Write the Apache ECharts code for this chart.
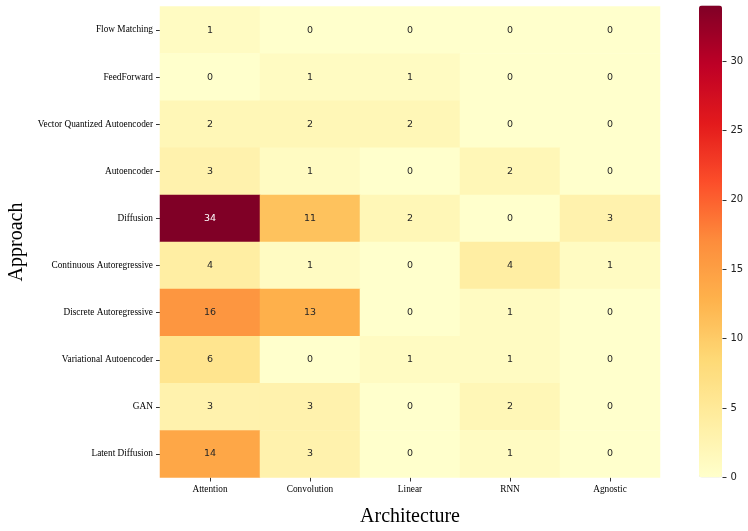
<!DOCTYPE html>
<html>
<head>
<meta charset="utf-8">
<script src="https://cdn.jsdelivr.net/npm/echarts@6/dist/echarts.min.js"></script>
<style>html,body{margin:0;padding:0;background:#fff;}#c{width:748px;height:531px;}</style>
</head>
<body>
<div id="c"></div>
<script>
var architectures = ['Attention', 'Convolution', 'Linear', 'RNN', 'Agnostic'];
var approaches = ['Flow Matching', 'FeedForward', 'Vector Quantized Autoencoder', 'Autoencoder', 'Diffusion',
  'Continuous Autoregressive', 'Discrete Autoregressive', 'Variational Autoencoder', 'GAN', 'Latent Diffusion'];
var counts = [
  [1, 0, 0, 0, 0],
  [0, 1, 1, 0, 0],
  [2, 2, 2, 0, 0],
  [3, 1, 0, 2, 0],
  [34, 11, 2, 0, 3],
  [4, 1, 0, 4, 1],
  [16, 13, 0, 1, 0],
  [6, 0, 1, 1, 0],
  [3, 3, 0, 2, 0],
  [14, 3, 0, 1, 0]
];
var colorbarTicks = [0, 5, 10, 15, 20, 25, 30];
var vmax = 34;
var axisMax = 35;

var data = [];
counts.forEach(function (row, yi) {
  row.forEach(function (v, xi) {
    var item = { value: [xi, yi, v] };
    if (v / vmax > 0.7) item.label = { color: '#ffffff' };
    data.push(item);
  });
});

var barBottom = 477.5, barHeight = 472;
var axisHeight = barHeight * axisMax / vmax;

var chart = echarts.init(document.getElementById('c'));
chart.setOption({
  animation: false,
  backgroundColor: '#ffffff',
  grid: [
    { left: 160, right: 88, top: 6.5, bottom: 53.5, containLabel: false, outerBoundsMode: 'none' },
    { left: 722.5, width: 20, top: barBottom - axisHeight, height: axisHeight, containLabel: false, outerBoundsMode: 'none' }
  ],
  xAxis: [
    {
      type: 'category', data: architectures, gridIndex: 0,
      axisLine: { show: false },
      axisTick: { show: true, alignWithLabel: true, length: 4, lineStyle: { color: '#333' } },
      axisLabel: { fontFamily: 'Liberation Serif', fontSize: 9.3, color: '#000', margin: 8 },
      name: 'Architecture', nameLocation: 'middle', nameGap: 29,
      nameTextStyle: { fontFamily: 'Liberation Serif', fontSize: 20, color: '#000' },
      splitLine: { show: false }
    },
    { type: 'value', gridIndex: 1, show: false, min: 0, max: 1 }
  ],
  yAxis: [
    {
      type: 'category', data: approaches, gridIndex: 0, inverse: true,
      axisLine: { show: false },
      axisTick: { show: true, alignWithLabel: true, length: 4, lineStyle: { color: '#333' } },
      axisLabel: { fontFamily: 'Liberation Serif', fontSize: 9.3, color: '#000', margin: 7 },
      name: 'Approach', nameLocation: 'middle', nameGap: 125, nameRotate: 90,
      nameTextStyle: { fontFamily: 'Liberation Serif', fontSize: 20, color: '#000' },
      splitLine: { show: false }
    },
    {
      type: 'value', gridIndex: 1, position: 'left', min: 0, max: axisMax, interval: 5,
      axisLine: { show: false },
      axisTick: { show: true, inside: true, length: 4, lineStyle: { color: '#333', width: 1 } },
      axisLabel: { inside: true, fontFamily: 'DejaVu Sans', fontSize: 10, color: '#222', margin: 8,
        formatter: function (v) { return colorbarTicks.indexOf(v) >= 0 ? String(v) : ''; } },
      splitLine: { show: false }
    }
  ],
  visualMap: {
    type: 'continuous', min: 0, max: vmax, seriesIndex: 0,
    calculable: false, show: true, left: 699, top: barBottom - barHeight, itemWidth: 23, itemHeight: barHeight,
    padding: 0, text: null, showLabel: false, hoverLink: false,
    inRange: { color: ['#ffffcc', '#ffeda0', '#fed976', '#feb24c', '#fd8d3c', '#fc4e2a', '#e31a1c', '#bd0026', '#800026'] },
    textStyle: { color: 'transparent' }
  },
  series: [
    {
      type: 'heatmap', xAxisIndex: 0, yAxisIndex: 0, data: data,
      label: { show: true, fontFamily: 'DejaVu Sans', fontSize: 9.5, color: '#262626' },
      itemStyle: { borderWidth: 0 },
      emphasis: { disabled: true }
    },
    { type: 'scatter', xAxisIndex: 1, yAxisIndex: 1, data: [] }
  ]
});
</script>
</body>
</html>
